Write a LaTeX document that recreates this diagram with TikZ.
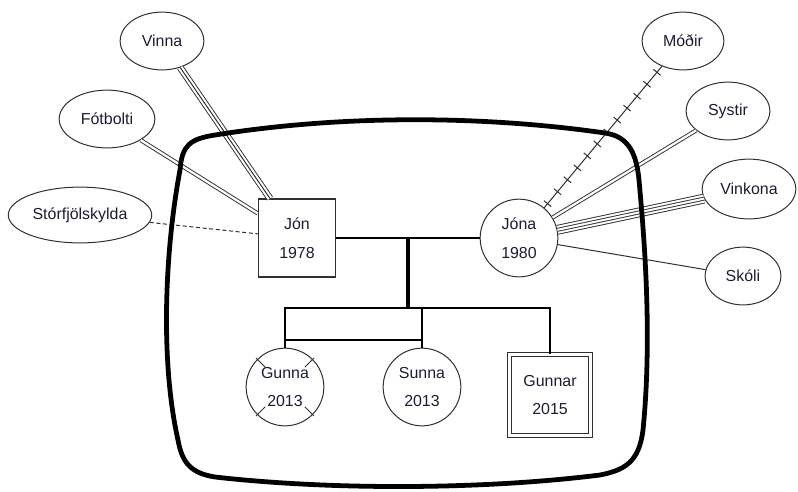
\documentclass[tikz,border=0pt]{standalone}
\usepackage{fontspec}
\setmainfont{Liberation Sans}
\usepackage{tikz}
\usetikzlibrary{shapes.geometric,decorations.markings,calc}
\definecolor{Ink}{HTML}{1C1C30}
\definecolor{Edge}{HTML}{303030}

\begin{document}
\begin{tikzpicture}[x=0.02646cm,y=-0.02646cm,font=\fontsize{12}{21.75}\selectfont,text=Ink]
  \tikzset{contact/.style={draw=Edge,ellipse,inner sep=0pt,line width=0.75pt},
           man/.style={draw=Edge,rectangle,minimum width=58pt,minimum height=58.5pt,inner sep=0pt,align=center,line width=1pt},
           woman/.style={draw=Edge,circle,minimum size=58.5pt,inner sep=0pt,align=center,line width=0.75pt},
           son/.style={man,double,double distance=2.25pt,line width=0.75pt,minimum width=61.5pt,minimum height=61.5pt},
           link/.style={draw=Edge,line width=0.75pt},
           weak/.style={link,dash pattern=on 3pt off 2pt},
           strong/.style={link,line width=0.7pt,double,double distance=1.7pt},
           stronger/.style={link,line width=0.7pt,double,double distance=3.8pt},
           outerfour/.style={link,line width=0.7pt,double,double distance=6pt},
           innerfour/.style={link,line width=0.7pt,double,double distance=1.55pt},
           tense/.style={link,postaction={decorate},decoration={markings,mark=between positions 4pt and 136pt step 11.7pt with {\draw[line width=0.75pt,Edge] (0,-3.5pt) -- (0,3.5pt);}}},
           famline/.style={draw=black,line width=1.6pt},
           stemline/.style={draw=black,line width=3pt},
           frame/.style={draw=black,line width=3.6pt}}
  \useasboundingbox (0,0) rectangle (798,491);

  % family
  \node[man] (jon) at (297,238) {Jón\\1978};
  \node[woman] (jona) at (519,238) {Jóna\\1980};
  \node[woman] (gunna) at (285,387) {Gunna\\2013};
  \node[woman] (sunna) at (422,387) {Sunna\\2013};
  \node[son] (gunnar) at (550,395) {Gunnar\\2015};

  % contacts
  \node[contact,minimum width=63pt,minimum height=43.5pt] (vinna) at (162,41) {Vinna};
  \node[contact,minimum width=72pt,minimum height=43.5pt] (fotbolti) at (107,119) {Fótbolti};
  \node[contact,minimum width=108pt,minimum height=42pt] (storf) at (80,215) {Stórfjölskylda};
  \node[contact,minimum width=61.5pt,minimum height=43.5pt] (modir) at (683,41) {Móðir};
  \node[contact,minimum width=63pt,minimum height=43.5pt] (systir) at (728,111) {Systir};
  \node[contact,minimum width=70.5pt,minimum height=45pt] (vinkona) at (749,189) {Vinkona};
  \node[contact,minimum width=57pt,minimum height=43.5pt] (skoli) at (743,276) {Skóli};

  \foreach \a/\b/\s in {fotbolti/jon/strong,storf/jon/weak,vinna/jon/stronger,vinna/jon/link,
                        jona/modir/tense,jona/systir/strong,jona/vinkona/outerfour,jona/vinkona/innerfour,jona/skoli/link}
    {\draw[\s] (\a) -- (\b);}

  \foreach \a in {45,135,225,315}
    {\draw[link] ($(gunna.center)+(\a:28)$) -- ($(gunna.center)+(\a:41)$);}

  \coordinate (mid) at (408,238);
  \coordinate (kids) at (408,308);
  \coordinate (twins) at (408,340);
  \draw[famline] (jon) -- (jona);
  \draw[stemline] (mid) -- (kids);
  \draw[famline] (gunna.north) -- (gunna.north |- kids) -- (gunnar.north |- kids) -- (gunnar.north);
  \draw[famline] (sunna.north |- kids) -- (sunna.north);
  \draw[famline] (gunna.north |- twins) -- (sunna.north |- twins);

  \draw[frame] (180,170)
    .. controls (182,145) and (190,139) .. (215,135)
    .. controls (340,115) and (480,115) .. (605,133)
    .. controls (625,136) and (636,148) .. (639,180)
    .. controls (643,225) and (653,330) .. (643,430)
    .. controls (639,462) and (625,470) .. (600,475)
    .. controls (480,490) and (330,490) .. (215,477)
    .. controls (190,473) and (182,462) .. (178,440)
    .. controls (160,360) and (165,250) .. (180,170) -- cycle;
\end{tikzpicture}
\end{document}
